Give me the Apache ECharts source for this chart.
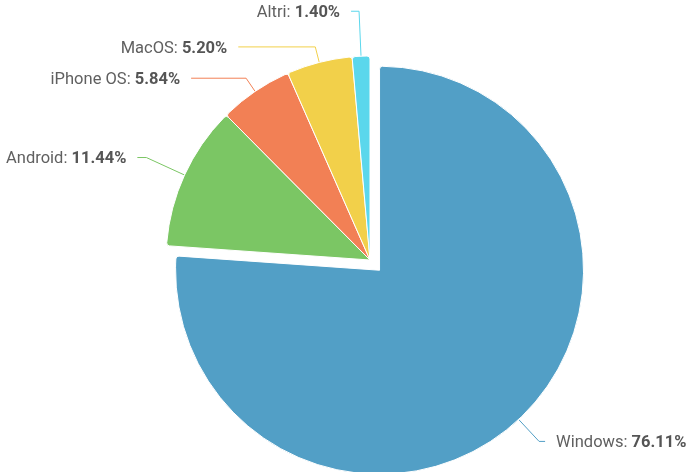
<!DOCTYPE html>
<html>
<head>
<meta charset="utf-8">
<script src="https://cdn.jsdelivr.net/npm/echarts@6/dist/echarts.min.js"></script>
<style>
  html, body { margin: 0; padding: 0; background: #fff; }
  #chart { width: 691px; height: 472px; }
</style>
</head>
<body>
<div id="chart"></div>
<script>
// dati del grafico
const categories = ['Windows', 'Android', 'iPhone OS', 'MacOS', 'Altri']
const shares = [76.11, 11.44, 5.84, 5.20, 1.40]
const colors = ['#529fc6', '#7bc664', '#f28055', '#f2d04a', '#5bd7ec']
// lunghezze delle linee delle etichette (radiale, orizzontale)
const lineLen = [30, 42, 16, 16, 45]
const lineLen2 = [6, 9, 55, 77, 8]

const chart = echarts.init(document.getElementById('chart'))

chart.setOption({
  animation: false,
  series: [
    {
      type: 'pie',
      center: [370, 260],
      radius: [0, 204],
      startAngle: 90,
      clockwise: true,
      selectedMode: 'single',
      selectedOffset: 14,
      avoidLabelOverlap: false,
      itemStyle: {
        borderColor: '#fff',
        borderWidth: 1,
        borderRadius: 3,
      },
      label: {
        distanceToLabelLine: 11,
        formatter: (p) => '{n|' + p.name + ': }{v|' + p.value.toFixed(2) + '%}',
        rich: {
          n: { fontFamily: 'Roboto', fontSize: 16.5, color: '#606060', padding: [3, 0, 0, 0] },
          v: { fontFamily: 'Roboto', fontSize: 16.5, color: '#555', fontWeight: 'bold', padding: [3, 0, 0, 0] },
        },
      },
      labelLine: {
        lineStyle: { width: 1 },
      },
      data: categories.map((name, i) => ({
        name,
        value: shares[i],
        selected: i === 0,
        itemStyle: { color: colors[i] },
        labelLine: {
          length: lineLen[i],
          length2: lineLen2[i],
          lineStyle: { color: colors[i] },
        },
      })),
    },
  ],
})
</script>
</body>
</html>
